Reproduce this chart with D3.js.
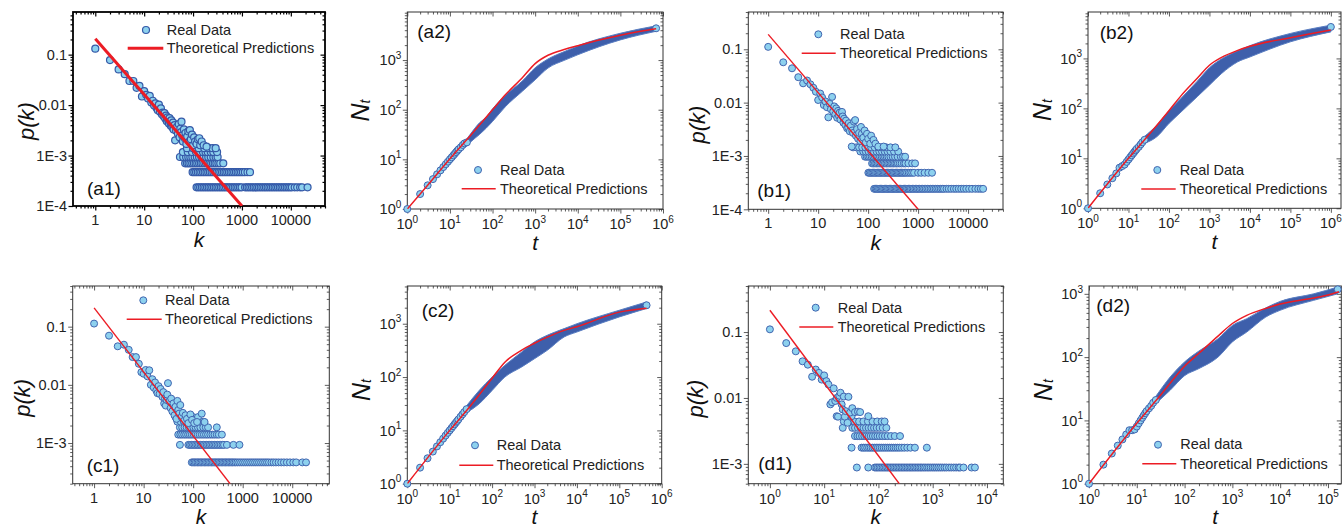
<!DOCTYPE html>
<html>
<head>
<meta charset="utf-8">
<script src="https://cdn.jsdelivr.net/npm/d3@7"></script>
<style>
body { margin: 0; background: #fff; }
svg { display: block; font-family: "Liberation Sans", Arial, sans-serif; }
</style>
</head>
<body>
<svg width="1343" height="527"></svg>
<script>
// ---------- degree distributions p(k) ----------
// head of the distribution (k, p(k))
var a1K = [1,2,3,4,5,6,7,8,9,10,11,12,13,14,15,16,17,18,19,20,21,22,23,24,25,26,27,28,29,30,31,32,33,34,35,36,37,38,39,40,42,43,45,47,49,51,53,55,57,58,60,62,65,68,70,73,76,80,84,86,90,95,100,105,110,118,125,134,140,150,165,189];
var a1P = [0.131,0.078,0.051,0.041,0.030,0.030,0.022,0.024,0.0148,0.019,0.016,0.0135,0.0152,0.0112,0.0122,0.0098,0.0108,0.0088,0.0079,0.0102,0.0074,0.0086,0.0066,0.0071,0.006,0.0069,0.0054,0.0062,0.0048,0.0057,0.005,0.0043,0.0055,0.0047,0.0039,0.005,0.0041,0.0036,0.0045,0.0033,0.004,0.002,0.0031,0.0037,0.0027,0.0042,0.0023,0.0034,0.0029,0.0047,0.0025,0.0019,0.0033,0.0022,0.0028,0.0017,0.0024,0.003,0.0019,0.0032,0.0021,0.0026,0.0016,0.0023,0.0019,0.0017,0.0021,0.0022,0.0016,0.0019,0.0016,0.0015];
// quantised tail: level values and the k that sit on each level
var a1Lvl = [2.34e-4, 4.68e-4, 7.02e-4, 9.36e-4, 1.17e-3, 1.40e-3];
var a1LvlK = [
  [118,128,139,151,164,178,193,209,227,246,267,290,315,342,371,402,436,473,513,557,604,655,711,771,837,908,985,1160,1260,1365,1480,1610,1745,1895,2055,2230,2420,2625,2850,3090,3350,3640,3950,4280,4650,5040,5470,5940,6440,6990,7580,8230,8930,9690,10500,12000,13500,15500,17000,22000],
  [98,106,115,125,136,147,160,173,188,204,221,240,261,283,307,333,361,392,425,461,500,543,589,639,693,752,816,885,960,1045,1150,1300,1460],
  [69,75,81,88,96,104,113,122,133,144,156,170,184,200,217,235,255,277,300,330,360,415],
  [54,63,72,80,88,97,108,120,133,148,165,185,205,230,260,290,318],
  [62,78,95,115,140,160,180,200,230,260,310],
  [75,100,130,170,210,250,290]
];
var a1FitK = [1, 1000], a1FitP = [0.207, 1e-4];

var b1K = [1,2,3,4,5,6,7,8,9,10,11,12,13,14,15,16,17,18,19,20,21,22,23,24,25,26,27,28,30,31,32,33,35,36,38,40,41,43,45,47,48,50,52,55,57,60,63,66,70,72,75,80,85,90,95,100,110,115,128,140,160,204];
var b1P = [0.111,0.057,0.044,0.030,0.023,0.026,0.022,0.019,0.016,0.0112,0.0148,0.0125,0.009,0.0105,0.0082,0.0053,0.0095,0.0075,0.0128,0.0068,0.0085,0.006,0.0078,0.0052,0.007,0.0057,0.0065,0.0048,0.0067,0.0055,0.0042,0.005,0.0038,0.0046,0.0033,0.0034,0.0041,0.0029,0.0037,0.0015,0.003,0.0027,0.0044,0.0047,0.0024,0.0032,0.0021,0.0027,0.0019,0.0035,0.0026,0.0022,0.003,0.0018,0.0026,0.0021,0.0017,0.0024,0.002,0.0017,0.0015,0.0015];
var b1Lvl = [2.42e-4, 4.84e-4, 7.26e-4, 9.68e-4, 1.21e-3, 1.45e-3];
var b1LvlK = [
  [132,140,148,157,166,176,187,198,210,223,236,250,265,281,298,316,335,355,376,399,423,448,475,503,533,565,600,640,680,720,770,820,880,940,1000,1070,1150,1230,1320,1420,1530,1650,1780,1920,2070,2240,2420,2620,2830,3060,3300,3700,4100,4600,5200,5800,6500,7300,8200,9200,10500,12000,14000,16000,18000,20000],
  [101,107,114,121,128,136,144,153,162,172,182,193,205,217,230,244,259,275,291,309,328,348,369,391,415,440,467,495,525,557,600,650,700,760,830,1000,1150,1350,1600,1900],
  [120,128,137,146,156,167,178,190,203,217,232,248,265,283,302,323,345,370,395,430,470,520,560,640,760,870],
  [87,94,101,109,118,127,137,148,160,173,187,202,218,236,255,280,310,345,390,450,500,550],
  [70,80,90,102,115,130,148,168,190,215,245,280,330,400],
  [50,58,66,76,88,100,115,135,160,190,230,280,350]
];
var b1FitK = [1, 1000], b1FitP = [0.19, 1e-4];

var c1K = [1,2,3,4,5,6,7,8,9,10,11,12,13,14,15,16,17,18,19,20,21,22,24,25,26,27,28,29,30,31,33,35,36,38,40,42,44,46,48,50,52,55,58,62,65,70,75,80,88,95,105,120,149,170];
var c1P = [0.113,0.070,0.046,0.049,0.040,0.030,0.030,0.023,0.0165,0.0155,0.018,0.014,0.0178,0.010,0.0125,0.009,0.011,0.008,0.0072,0.0095,0.007,0.0085,0.0062,0.0075,0.0048,0.0058,0.0044,0.0055,0.0068,0.0107,0.0052,0.004,0.0058,0.0035,0.0048,0.003,0.0042,0.0026,0.0053,0.0037,0.0032,0.0045,0.0028,0.0033,0.0024,0.003,0.0026,0.0022,0.0031,0.0025,0.0022,0.0023,0.0032,0.0023];
var c1Lvl = [4.65e-4, 9.3e-4, 1.395e-3, 1.86e-3, 2.33e-3, 2.79e-3];
var c1LvlK = [
  [94,100,107,114,122,130,139,148,158,169,180,192,205,219,234,250,267,285,304,325,347,370,395,422,450,480,513,548,585,625,670,720,780,850,930,1020,1120,1230,1350,1480,1620,1780,1950,2140,2350,2580,2830,3100,3400,3800,4200,4700,5300,6000,6800,7800,9000,10500,12000,16000,19000],
  [54,80,86,92,99,106,114,122,131,141,151,162,174,187,201,216,232,250,268,288,310,335,360,390,420,480,650,860],
  [50,55,60,66,72,79,86,94,103,113,124,136,150,165,182,200,222,245,270,300,330,380],
  [54,60,67,74,82,91,101,112,125,140,160,180,200,300],
  [48,56,65,76,88,100,118,135,160],
  [44,52,61,72,85,100,125]
];
var c1FitK = [1, 556], c1FitP = [0.21, 2e-4];

var d1K = [1,2,3,4,5,6,7,8,9,10,11,12,13,14,15,16,17,18,19,20,21,22,23,24,25,27,28,30,33,37,42,46];
var d1P = [0.110,0.068,0.051,0.036,0.032,0.021,0.027,0.024,0.019,0.022,0.018,0.016,0.008,0.0086,0.014,0.009,0.010,0.0052,0.0108,0.012,0.008,0.0067,0.0105,0.0052,0.0063,0.0042,0.0104,0.006,0.007,0.0061,0.0062,0.0061];
var d1Lvl = [8.8e-4, 1.76e-3, 2.64e-3, 3.52e-3, 4.4e-3, 5.28e-3];
var d1LvlK = [
  [40,65,86,92,98,105,112,120,128,137,146,156,167,178,190,203,217,232,248,265,283,302,323,345,370,395,420,450,480,515,550,590,630,680,730,790,850,920,1000,1080,1170,1270,1380,1500,1650,1800,2000,2200,2450,2700,3000,3200,3700,5200,6000],
  [32,49,53,57,62,67,72,78,84,91,98,106,115,125,136,148,161,175,190,207,225,245,270,300,340,390,470,780],
  [37,41,45,50,55,60,66,72,79,87,96,106,118,132,148,170,200,250],
  [22,33,37,42,47,53,59,66,74,83,93,105,120,140],
  [23,30,36,44,53,64,78,95,115,130],
  [17,32,65]
];
var d1FitK = [1, 242], d1FitP = [0.214, 5e-4];

// ---------- growth curves N_t ----------
// single points at small t, then the dense band (lower / upper edge)
var tEarly = [1,2,3,4,5,6,7,8,9,10,11,12,13,14,15,16,18,20,22,25];
var a2Early = [1,2,3,4,5,6,7,8,9,10,11,12,13,14,15,16,17.5,19.5,21,22];
var a2T  = [25,30,50,70,100,200,500,1000,2000,5000,1e4,1e5,6.9e5];
var a2Lo = [18.7,22,32,42,58,115,235,400,690,1000,1280,2550,3800];
var a2Hi = [26,32,55,70,104,195,380,700,1050,1500,1930,3470,4900];
var a2Last = [6.9e5, 4370];
var a2FitT = [1,3,10,30,100,200,500,1000,2000,5000,1e4,3e4,1e5,3e5,6.9e5];
var a2FitN = [1,3,10.3,30,100,200,440,850,1250,1650,1950,2500,3150,3800,4300];

var b2Early = [1,2,3,4,5,6.5,7,7.5,8.5,9.5,10.5,11.5,12.5,13.5,14.5,15.5,17,19,21,23.5];
var b2T  = [25,50,100,200,500,1000,2000,5000,1e4,1e5,1e6];
var b2Lo = [20,27,50,85,171,292,500,855,1070,2150,3400];
var b2Hi = [27.6,46,90,160,350,650,980,1420,1800,3160,4630];
var b2Last = [1e6, 4270];
var b2FitT = [1,10,30,100,200,500,1000,2000,5000,1e4,1e5,1e6];
var b2FitN = [1,10,28,90,180,400,730,1050,1450,1750,2600,3700];

var c2Early = [1,2,3,4,5,6,7,8,9,10,11,12,13,14,15,16,18,20,22,25];
var c2T  = [25,50,100,200,500,1000,2000,5000,1e4,1e5,4.4e5];
var c2Lo = [21.5,31.7,56,100,155,221,317,565,700,1340,1930];
var c2Hi = [29,56.5,100,166,296,457,608,810,1000,1790,2560];
var c2Last = [4.4e5, 2220];
var c2FitT = [1,10,30,100,200,500,1000,2000,5000,1e4,1e5,4.4e5];
var c2FitN = [1,10,28,95,190,320,430,560,750,880,1650,1950];

var d2Early = [1,2,3,4,5,6,7,7,7.2,8,9,10,11,12,13,14,15.5,17,19,21];
var d2T  = [25,50,100,200,500,1000,2000,5000,1e4,5e4,1.6e5];
var d2Lo = [18.5,30,51,66,100,174,249,430,550,789,1000];
var d2Hi = [24,48.5,84,125,195,317,405,600,760,1000,1280];
var d2Last = [1.6e5, 1180];
var d2FitT = [1,10,30,100,200,500,1000,2000,5000,1e4,5e4,1e5,1.7e5];
var d2FitN = [1,9,24,72,115,215,340,458,590,690,860,960,1080];

var kTicks = [1, 10, 100, 1000, 10000];
var kTickLabels = ['1', '10', '100', '1000', '10000'];
var pTicks = [0.1, 0.01, 1e-3, 1e-4];
var pTickLabels = ['0.1', '0.01', '1E-3', '1E-4'];
var decTicks = [1, 10, 100, 1000, 1e4, 1e5, 1e6];

// ---------- drawing ----------
var FILL = '#8dd1ee', EDGE = '#4165b0', RED = '#ec1c24', BAND = '#3e5fab';
var R = 3.5;
var svg = d3.select('svg');

var panels = [
  {id:'a1', kind:'pk', box:[73,12,325,206], xd:[0.35,5e4], yd:[1e-4,0.7], K:a1K, P:a1P, lv:a1Lvl, lvK:a1LvlK, fit:[a1FitK,a1FitP], thick:true,
   yl:[26,121], lab:[87,195,'(a1)'], leg:[146,30,166.7,35,127.7,163.3,48.3,53]},
  {id:'a2', kind:'nt', box:[407.3,12,663,209], xd:[1,1e6], yd:[1,9300], E:a2Early, T:a2T, lo:a2Lo, hi:a2Hi, last:a2Last, fit:[a2FitT,a2FitN],
   yl:[360,110.5], lab:[417.3,38.3,'(a2)'], leg:[478,170,500,175,461.7,495.7,188.7,194]},
  {id:'b1', kind:'pk', box:[748.3,12,1003,209.3], xd:[0.4,5e4], yd:[1e-4,0.5], K:b1K, P:b1P, lv:b1Lvl, lvK:b1LvlK, fit:[b1FitK,b1FitP],
   yl:[697,124.5], lab:[757.3,196.7,'(b1)'], leg:[818.3,34.3,840,39.3,801.7,835.7,53.3,58.3]},
  {id:'b2', kind:'nt', box:[1088,12,1341,208.3], xd:[1,1.78e6], yd:[1,8500], E:b2Early, T:b2T, lo:b2Lo, hi:b2Hi, last:b2Last, fit:[b2FitT,b2FitN],
   yl:[1042,110], lab:[1099.7,39.3,'(b2)'], leg:[1157.3,170,1179.7,175,1141.3,1175.7,189,194]},
  {id:'c1', kind:'pk', box:[72.7,286,329.3,483.7], xd:[0.37,5.6e4], yd:[2e-4,0.5], K:c1K, P:c1P, lv:c1Lvl, lvK:c1LvlK, fit:[c1FitK,c1FitP],
   yl:[22,397.8], lab:[86.7,472,'(c1)'], leg:[143.3,300.3,165,305.3,126.7,161.7,319.3,324.3]},
  {id:'c2', kind:'nt', box:[407.3,286,661.7,483.7], xd:[1,1e6], yd:[1,5100], E:c2Early, T:c2T, lo:c2Lo, hi:c2Hi, last:c2Last, fit:[c2FitT,c2FitN],
   yl:[360.5,390], lab:[421.7,317,'(c2)'], leg:[475,445.3,496.7,450.3,459.3,493.3,465.3,470.3]},
  {id:'d1', kind:'pk', box:[748.3,286,1003.3,483.7], xd:[0.4,2e4], yd:[5e-4,0.5], K:d1K, P:d1P, lv:d1Lvl, lvK:d1LvlK, fit:[d1FitK,d1FitP], supX:true,
   yl:[695,398.5], lab:[758.3,470.3,'(d1)'], leg:[815.7,307.7,837.7,312.7,799.3,833.3,327,332]},
  {id:'d2', kind:'nt', box:[1089,286,1341.3,483.7], xd:[1,1.9e5], yd:[1,1330], E:d2Early, T:d2T, lo:d2Lo, hi:d2Hi, last:d2Last, fit:[d2FitT,d2FitN], realLabel:'Real data',
   yl:[1042.5,390], lab:[1096.3,312,'(d2)'], leg:[1158,444.7,1180.3,449.3,1142.3,1176.3,463.7,468.7]}
];

function minorTicks(dom) {
  var out = [];
  var lo = Math.floor(Math.log10(dom[0])), hi = Math.ceil(Math.log10(dom[1]));
  for (var e = lo; e <= hi; e++) {
    for (var m = 2; m <= 9; m++) {
      var v = m * Math.pow(10, e);
      if (v >= dom[0] && v <= dom[1]) out.push(v);
    }
  }
  return out;
}

function inDomain(vals, dom) {
  return vals.filter(function(v){ return v >= dom[0] * 0.999 && v <= dom[1] * 1.001; });
}

function powLabel(sel, v) {
  var e = Math.round(Math.log10(v));
  sel.text('10');
  sel.append('tspan').attr('dy', -6.5).attr('font-size', 10).text(e);
}

function drawAxes(g, p, x, y) {
  var b = p.box;
  var col = p.thick ? '#000' : '#333';
  var xMaj = inDomain(p.kind === 'pk' ? kTicks : decTicks, p.xd);
  var yMaj = inDomain(p.kind === 'pk' ? pTicks : decTicks, p.yd);

  function tickAxis(axis, vals, size, tr) {
    var a = g.append('g').attr('transform', tr)
      .call(axis.tickValues(vals).tickSize(size).tickFormat(''));
    a.select('.domain').remove();
    a.selectAll('line').attr('stroke', col).attr('stroke-width', p.thick ? 1.2 : 0.8);
  }
  // bottom / left outwards, top / right mirrored inwards
  tickAxis(d3.axisBottom(x), xMaj, 4.5, 'translate(0,' + b[3] + ')');
  tickAxis(d3.axisBottom(x), minorTicks(p.xd), 2.5, 'translate(0,' + b[3] + ')');
  tickAxis(d3.axisTop(x), xMaj, -4.5, 'translate(0,' + b[1] + ')');
  tickAxis(d3.axisTop(x), minorTicks(p.xd), -2.5, 'translate(0,' + b[1] + ')');
  tickAxis(d3.axisLeft(y), yMaj, 4.5, 'translate(' + b[0] + ',0)');
  tickAxis(d3.axisLeft(y), minorTicks(p.yd), 2.5, 'translate(' + b[0] + ',0)');
  tickAxis(d3.axisRight(y), yMaj, -4.5, 'translate(' + b[2] + ',0)');
  tickAxis(d3.axisRight(y), minorTicks(p.yd), -2.5, 'translate(' + b[2] + ',0)');

  g.append('rect').attr('x', b[0]).attr('y', b[1]).attr('width', b[2] - b[0]).attr('height', b[3] - b[1])
    .attr('fill', 'none').attr('stroke', col).attr('stroke-width', p.thick ? 1.8 : 1);

  // tick labels
  var sup = p.kind === 'nt' || p.supX;
  var xl = g.append('g').attr('font-size', 14.5).attr('fill', '#222').attr('text-anchor', 'middle');
  xMaj.forEach(function(v, i) {
    var t = xl.append('text').attr('x', x(v)).attr('y', b[3] + (sup ? 20 : 19));
    if (sup) powLabel(t, v); else t.text(kTickLabels[kTicks.indexOf(v)]);
  });
  var yl = g.append('g').attr('font-size', 14.5).attr('fill', '#222').attr('text-anchor', 'end');
  yMaj.forEach(function(v) {
    var t = yl.append('text').attr('x', b[0] - 6).attr('y', y(v) + 5.2);
    if (p.kind === 'nt') powLabel(t, v); else t.text(pTickLabels[pTicks.indexOf(v)]);
  });

  // axis titles
  var ty = g.append('text').attr('transform', 'translate(' + p.yl[0] + ',' + p.yl[1] + ') rotate(-90)')
    .attr('text-anchor', 'middle').attr('dominant-baseline', 'central')
    .attr('font-style', 'italic').attr('fill', '#111');
  if (p.kind === 'pk') {
    ty.attr('font-size', 22).text('p(k)');
  } else {
    ty.attr('font-size', 25).text('N');
    ty.append('tspan').attr('font-size', 14).attr('dy', 5).text('t');
  }
  g.append('text').attr('x', (b[0] + b[2]) / 2).attr('y', b[3] + 40.5)
    .attr('text-anchor', 'middle').attr('font-style', 'italic').attr('font-size', 21).attr('fill', '#111')
    .text(p.kind === 'pk' ? 'k' : 't');
}

function drawLegend(g, p, edge, sw) {
  var L = p.leg;
  g.append('circle').attr('cx', L[0]).attr('cy', L[1]).attr('r', R)
    .attr('fill', FILL).attr('stroke', edge).attr('stroke-width', sw);
  g.append('text').attr('x', L[2]).attr('y', L[3]).attr('font-size', 14.5).attr('fill', '#222')
    .text(p.realLabel || 'Real Data');
  g.append('line').attr('x1', L[4]).attr('x2', L[5]).attr('y1', L[6]).attr('y2', L[6])
    .attr('stroke', RED).attr('stroke-width', p.thick ? 3 : 1.4);
  g.append('text').attr('x', L[2]).attr('y', L[7]).attr('font-size', 14.5).attr('fill', '#222')
    .text('Theoretical Predictions');
  g.append('text').attr('x', p.lab[0]).attr('y', p.lab[1]).attr('font-size', 19).attr('fill', '#111')
    .text(p.lab[2]);
}

panels.forEach(function(p) {
  var b = p.box;
  var g = svg.append('g').attr('class', 'panel-' + p.id);
  var x = d3.scaleLog().domain(p.xd).range([b[0], b[2]]);
  var y = d3.scaleLog().domain(p.yd).range([b[3], b[1]]);
  // (a1) has bolder marker outlines than the other panels
  var edge = p.thick ? '#3559a8' : EDGE, sw = p.thick ? 1.2 : 1;

  svg.append('clipPath').attr('id', 'clip-' + p.id).append('rect')
    .attr('x', b[0]).attr('y', b[1]).attr('width', b[2] - b[0]).attr('height', b[3] - b[1]);

  drawAxes(g, p, x, y);
  var data = g.append('g');

  if (p.kind === 'pk') {
    var pts = [];
    p.lvK.forEach(function(ks, j) { ks.forEach(function(k) { pts.push([k, p.lv[j]]); }); });
    p.K.forEach(function(k, i) { pts.push([k, p.P[i]]); });
    data.selectAll('circle').data(pts).enter().append('circle')
      .attr('cx', function(d) { return x(d[0]); })
      .attr('cy', function(d) { return y(d[1]); })
      .attr('r', R).attr('fill', FILL).attr('stroke', edge).attr('stroke-width', sw);
    data.append('path').datum(d3.zip(p.fit[0], p.fit[1]))
      .attr('clip-path', 'url(#clip-' + p.id + ')')
      .attr('d', d3.line().x(function(d) { return x(d[0]); }).y(function(d) { return y(d[1]); }))
      .attr('fill', 'none').attr('stroke', RED).attr('stroke-width', p.thick ? 3 : 1.4);
  } else {
    var band = d3.zip(p.T, p.lo, p.hi);
    data.append('path').datum(band)
      .attr('d', d3.area().curve(d3.curveMonotoneX)
        .x(function(d) { return x(d[0]); })
        .y0(function(d) { return y(d[1]); })
        .y1(function(d) { return y(d[2]); }))
      .attr('fill', BAND).attr('stroke', '#5a7ec2').attr('stroke-width', 1);
    var early = d3.zip(tEarly, p.E);
    early.push(p.last);
    data.selectAll('circle').data(early).enter().append('circle')
      .attr('cx', function(d) { return x(d[0]); })
      .attr('cy', function(d) { return y(d[1]); })
      .attr('r', R).attr('fill', FILL).attr('stroke', edge).attr('stroke-width', sw);
    data.append('path').datum(d3.zip(p.fit[0], p.fit[1]))
      .attr('clip-path', 'url(#clip-' + p.id + ')')
      .attr('d', d3.line().curve(d3.curveMonotoneX)
        .x(function(d) { return x(d[0]); }).y(function(d) { return y(d[1]); }))
      .attr('fill', 'none').attr('stroke', RED).attr('stroke-width', 1.5);
  }
  drawLegend(g, p, edge, sw);
});
</script>
</body>
</html>
